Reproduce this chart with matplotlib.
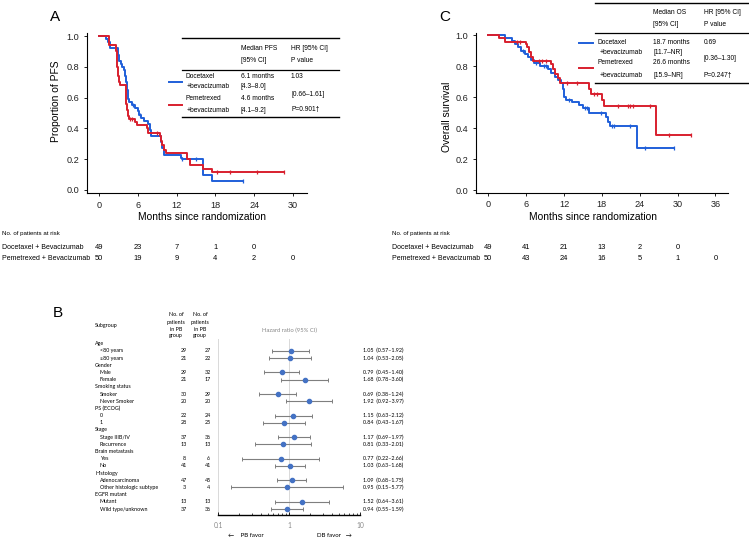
import numpy as np
import matplotlib
matplotlib.use('Agg')
import matplotlib.pyplot as plt
from matplotlib.lines import Line2D
from matplotlib.transforms import blended_transform_factory as btf

plt.rcParams['font.family'] = ['Liberation Sans', 'DejaVu Sans']

# ---------------- data ----------------
# Panel A: PFS (step times, survival after step)
pfs_doc_t = [0, 1.0, 1.3, 1.6, 2.9, 3.0, 3.4, 3.6, 3.8, 4.0, 4.2, 4.3, 4.4, 4.5, 4.6, 5.0, 5.6, 6.0, 6.2, 6.5,
             7.0, 7.6, 7.8, 8.0, 9.6, 9.8, 10.0, 12.6, 12.8, 16.1, 17.4]
pfs_doc_s = [1.0, 0.98, 0.96, 0.92, 0.88, 0.84, 0.82, 0.80, 0.78, 0.74, 0.70, 0.65, 0.61, 0.59, 0.57, 0.55, 0.53,
             0.51, 0.49, 0.47, 0.45, 0.43, 0.39, 0.35, 0.31, 0.27, 0.23, 0.21, 0.20, 0.10, 0.055]
pfs_doc_end = 22.3
pfs_doc_cens = [5.2, 6.3, 12.9, 15.0, 22.3]

pfs_pem_t = [0, 1.5, 2.6, 2.7, 2.8, 2.9, 3.0, 3.2, 4.1, 4.2, 4.3, 4.5, 4.6, 5.6, 5.8, 7.4, 7.6, 9.4, 9.6, 9.8,
             10.1, 10.3, 13.6, 14.0, 16.1, 17.4]
pfs_pem_s = [1.0, 0.94, 0.90, 0.86, 0.80, 0.74, 0.70, 0.68, 0.62, 0.56, 0.52, 0.48, 0.46, 0.44, 0.42, 0.40, 0.37,
             0.35, 0.32, 0.29, 0.26, 0.24, 0.20, 0.16, 0.135, 0.115]
pfs_pem_end = 28.7
pfs_pem_cens = [4.8, 5.0, 9.0, 18.3, 20.2, 24.4, 28.7]

# Panel C: OS
os_doc_t = [0, 2.7, 3.7, 4.2, 4.7, 5.2, 5.8, 6.3, 6.8, 7.2, 8.2, 9.5, 10.0, 10.6, 11.1, 11.6, 11.8, 12.0, 12.3,
            13.2, 14.3, 15.0, 16.0, 18.6, 19.0, 19.3, 23.6]
os_doc_s = [1.0, 0.98, 0.96, 0.945, 0.925, 0.90, 0.88, 0.86, 0.84, 0.817, 0.80, 0.78, 0.755, 0.73, 0.71, 0.69,
            0.65, 0.60, 0.58, 0.57, 0.55, 0.53, 0.50, 0.47, 0.44, 0.41, 0.27]
os_doc_end = 29.5
os_doc_cens = [5.5, 7.5, 8.8, 9.2, 12.8, 15.3, 15.6, 17.8, 19.6, 20.0, 22.5, 24.9, 29.5]

os_pem_t = [0, 1.7, 2.7, 5.9, 6.2, 6.5, 6.8, 7.1, 10.0, 10.3, 10.6, 11.0, 11.4, 16.0, 16.3, 18.1, 18.4, 26.6]
os_pem_s = [1.0, 0.98, 0.957, 0.94, 0.92, 0.89, 0.86, 0.83, 0.81, 0.78, 0.75, 0.72, 0.69, 0.65, 0.62, 0.58,
            0.54, 0.355]
os_pem_end = 32.1
os_pem_cens = [4.5, 5.1, 8.0, 8.5, 9.2, 12.4, 14.0, 16.8, 17.2, 20.6, 22.2, 22.5, 23.0, 25.6, 28.6, 32.1]

# risk tables
risk_months_A = [0, 6, 12, 18, 24, 30]
risk_doc_A = [49, 23, 7, 1, 0]
risk_pem_A = [50, 19, 9, 4, 2, 0]
risk_months_C = [0, 6, 12, 18, 24, 30, 36]
risk_doc_C = [49, 41, 21, 13, 2, 0]
risk_pem_C = [50, 43, 24, 16, 5, 1, 0]

# Panel B: forest plot
groups = ['Age', 'Gender', 'Smoking status', 'PS (ECOG)', 'Stage', 'Brain metastasis', 'Histology', 'EGFR mutant']
subgroups = [['<80 years', '\u226580 years'], ['Male', 'Female'], ['Smoker', 'Never Smoker'], ['0', '1'],
             ['Stage IIIB/IV', 'Recurrence'], ['Yes', 'No'], ['Adenocarcinoma', 'Other histologic subtype'],
             ['Mutant', 'Wild type/unknown']]
hr = [1.05, 1.04, 0.79, 1.68, 0.69, 1.92, 1.15, 0.84, 1.17, 0.81, 0.77, 1.03, 1.09, 0.95, 1.52, 0.94]
hr_lo = [0.57, 0.53, 0.45, 0.78, 0.38, 0.92, 0.63, 0.43, 0.69, 0.33, 0.22, 0.63, 0.68, 0.15, 0.64, 0.55]
hr_hi = [1.92, 2.05, 1.40, 3.60, 1.24, 3.97, 2.12, 1.67, 1.97, 2.01, 2.66, 1.68, 1.75, 5.77, 3.61, 1.59]
n_col1 = [29, 21, 29, 21, 30, 20, 22, 28, 37, 13, 8, 41, 47, 3, 13, 37]
n_col2 = [27, 22, 32, 17, 29, 20, 24, 25, 36, 13, 6, 41, 45, 4, 13, 36]

# ---------------- drawing ----------------
W, H = 749, 538
BLUE = '#1f5fd9'
RED = '#d81f2e'
fig = plt.figure(figsize=(W / 100, H / 100), dpi=100)


def px_axes(l, t, r, b):
    return fig.add_axes([l / W, 1 - b / H, (r - l) / W, (b - t) / H])


def ftext(x, y, s, **kw):
    kw.setdefault('va', 'center')
    return fig.text(x / W, 1 - y / H, s, **kw)


def fline(x0, x1, y0, y1, **kw):
    fig.add_artist(Line2D([x0 / W, x1 / W], [1 - y0 / H, 1 - y1 / H], transform=fig.transFigure, **kw))


def km(ax, t, s, end, cens, color):
    tt = np.array(list(t) + [end])
    ss = np.array(list(s) + [s[-1]])
    ax.step(tt, ss, where='post', color=color, lw=1.4)
    c = np.array(cens)
    idx = np.clip(np.searchsorted(tt, c, side='right') - 1, 0, len(ss) - 1)
    ax.plot(c, ss[idx], ls='none', marker='|', ms=3.2, mew=0.9, color=color)


def style_km(ax, xmax_tick):
    for sp in ['top', 'right']:
        ax.spines[sp].set_visible(False)
    for sp in ['left', 'bottom']:
        ax.spines[sp].set_linewidth(0.8)
    ax.set_xticks(np.arange(0, xmax_tick + 1, 6))
    ax.set_yticks([0.0, 0.2, 0.4, 0.6, 0.8, 1.0])
    ax.set_yticklabels(['0.0', '0.2', '0.4', '0.6', '0.8', '1.0'])
    ax.tick_params(labelsize=6.6, length=2.5, width=0.7, pad=3, colors='#222222')


# Panel A
axA = px_axes(87, 33, 307, 193)
km(axA, pfs_doc_t, pfs_doc_s, pfs_doc_end, pfs_doc_cens, BLUE)
km(axA, pfs_pem_t, pfs_pem_s, pfs_pem_end, pfs_pem_cens, RED)
axA.set_xlim(-1.9, 32.2)
axA.set_ylim(-0.02, 1.02)
style_km(axA, 30)
ftext(50, 17, 'A', fontsize=11)
ftext(56, 101, 'Proportion of PFS', fontsize=7.4, rotation=90, ha='center')
ftext(202, 217, 'Months since randomization', fontsize=7.4, ha='center')

fs_t = 4.8
fline(182, 339, 38, 38, color='black', lw=1.0)
fline(182, 339, 70, 70, color='black', lw=0.9)
fline(182, 339, 117, 117, color='black', lw=1.0)
fline(169, 182, 82, 82, color=BLUE, lw=1.4)
fline(169, 182, 105, 105, color=RED, lw=1.4)
ftext(241, 48, 'Median PFS', fontsize=fs_t)
ftext(241, 60, '[95% CI]', fontsize=fs_t)
ftext(291, 48, 'HR [95% CI]', fontsize=fs_t)
ftext(291, 60, 'P value', fontsize=fs_t)
ftext(185, 77, 'Docetaxel', fontsize=fs_t)
ftext(187, 87, '+bevacizumab', fontsize=fs_t)
ftext(185, 98, 'Pemetrexed', fontsize=fs_t)
ftext(187, 110, '+bevacizumab', fontsize=fs_t)
ftext(241, 77, '6.1 months', fontsize=fs_t)
ftext(241, 87, '[4.3\u20138.0]', fontsize=fs_t)
ftext(241, 98, '4.6 months', fontsize=fs_t)
ftext(241, 110, '[4.1\u20139.2]', fontsize=fs_t)
ftext(291, 77, '1.03', fontsize=fs_t)
ftext(291, 94, '[0.66\u20131.61]', fontsize=fs_t)
ftext(291, 110, 'P=0.901\u2020', fontsize=fs_t)

# Risk table A
ftext(2, 234, 'No. of patients at risk', fontsize=4.4)
ftext(2, 248, 'Docetaxel + Bevacizumab', fontsize=5)
ftext(2, 259, 'Pemetrexed + Bevacizumab', fontsize=5)
trA = btf(axA.transData, fig.transFigure)
for m, n in zip(risk_months_A, risk_doc_A):
    axA.text(m, 1 - 248 / H, str(n), transform=trA, fontsize=5.4, ha='center', va='center', clip_on=False)
for m, n in zip(risk_months_A, risk_pem_A):
    axA.text(m, 1 - 259 / H, str(n), transform=trA, fontsize=5.4, ha='center', va='center', clip_on=False)

# Panel C
axC = px_axes(475.7, 33, 728, 192.7)
km(axC, os_doc_t, os_doc_s, os_doc_end, os_doc_cens, BLUE)
km(axC, os_pem_t, os_pem_s, os_pem_end, os_pem_cens, RED)
axC.set_xlim(-2.0, 38.0)
axC.set_ylim(-0.017, 1.013)
style_km(axC, 36)
ftext(439, 17, 'C', fontsize=11)
ftext(447, 117, 'Overall survival', fontsize=7.4, rotation=90, ha='center')
ftext(593, 217, 'Months since randomization', fontsize=7.4, ha='center')

fline(595, 748, 3.3, 3.3, color='black', lw=1.0)
fline(595, 748, 33, 33, color='black', lw=0.9)
fline(595, 748, 83, 83, color='black', lw=1.0)
fline(579, 593, 43, 43, color=BLUE, lw=1.4)
fline(579, 593, 68, 68, color=RED, lw=1.4)
ftext(653, 12, 'Median OS', fontsize=fs_t)
ftext(653, 24, '[95% CI]', fontsize=fs_t)
ftext(704, 12, 'HR [95% CI]', fontsize=fs_t)
ftext(704, 24, 'P value', fontsize=fs_t)
ftext(598, 42, 'Docetaxel', fontsize=fs_t)
ftext(600, 53, '+bevacizumab', fontsize=fs_t)
ftext(598, 62, 'Pemetrexed', fontsize=fs_t)
ftext(600, 75, '+bevacizumab', fontsize=fs_t)
ftext(653, 42, '18.7 months', fontsize=fs_t)
ftext(653, 53, '[11.7\u2013NR]', fontsize=fs_t)
ftext(653, 63, '26.6 months', fontsize=fs_t)
ftext(653, 75, '[15.9\u2013NR]', fontsize=fs_t)
ftext(704, 42, '0.69', fontsize=fs_t)
ftext(704, 58, '[0.36\u20131.30]', fontsize=fs_t)
ftext(704, 75, 'P=0.247\u2020', fontsize=fs_t)

ftext(392, 234, 'No. of patients at risk', fontsize=4.4)
ftext(392, 248, 'Docetaxel + Bevacizumab', fontsize=5)
ftext(392, 259, 'Pemetrexed + Bevacizumab', fontsize=5)
trC = btf(axC.transData, fig.transFigure)
for m, n in zip(risk_months_C, risk_doc_C):
    axC.text(m, 1 - 248 / H, str(n), transform=trC, fontsize=5.4, ha='center', va='center', clip_on=False)
for m, n in zip(risk_months_C, risk_pem_C):
    axC.text(m, 1 - 259 / H, str(n), transform=trC, fontsize=5.4, ha='center', va='center', clip_on=False)

# Panel B: forest
FF = ['Lato', 'DejaVu Sans']
fsb = 3.9
ftext(53, 313, 'B', fontsize=11)
row0, dr = 343.7, 7.19
axB = px_axes(218, 339, 360, 515)
axB.set_xscale('log')
axB.set_xlim(0.1, 10)
axB.set_ylim(23 + (515 - 509) / dr, -(row0 - 339) / dr)
for sp in ['top', 'right', 'left']:
    axB.spines[sp].set_visible(False)
axB.spines['bottom'].set_linewidth(1.0)
for v in [0.1, 1, 10]:
    axB.axvline(v, color='#d9d9d9', lw=0.7, zorder=0)
axB.set_yticks([])
axB.set_xticks([0.1, 1, 10])
axB.set_xticklabels(['0.1', '1', '10'], family=FF)
axB.tick_params(axis='x', which='major', direction='in', length=2.5, width=0.6, labelsize=4.8,
                labelcolor='#888888', pad=5)
axB.tick_params(axis='x', which='minor', direction='in', length=1.5, width=0.5)

data_rows = []
for g, (name, subs) in enumerate(zip(groups, subgroups)):
    r = 3 * g
    ftext(95, row0 + r * dr, name, fontsize=fsb, family=FF)
    for k, s in enumerate(subs):
        rr = r + 1 + k
        data_rows.append(rr)
        ftext(100, row0 + rr * dr, s, fontsize=fsb, family=FF)

data_rows = np.array(data_rows)
hr_a, lo_a, hi_a = np.array(hr), np.array(hr_lo), np.array(hr_hi)
axB.errorbar(hr_a, data_rows, xerr=[hr_a - lo_a, hi_a - hr_a], fmt='none', ecolor='#7f7f7f',
             elinewidth=0.8, capsize=1.6, capthick=0.7, zorder=2)
axB.plot(hr_a, data_rows, 'o', color='#4472c4', ms=3.0, zorder=3)

for rr, a, b, h, l, u in zip(data_rows, n_col1, n_col2, hr, hr_lo, hr_hi):
    y = row0 + rr * dr
    ftext(184, y, str(a), fontsize=fsb, family=FF, ha='center')
    ftext(208, y, str(b), fontsize=fsb, family=FF, ha='center')
    ftext(363, y, f'{h:.2f}  ({l:.2f}\u2013{u:.2f})', fontsize=fsb, family=FF)

ftext(95, 326, 'Subgroup', fontsize=fsb, family=FF)
for cx in [176, 200]:
    for yy, s in zip([315, 322.5, 329.3, 336], ['No. of', 'patients', 'in PB', 'group']):
        ftext(cx, yy, s, fontsize=fsb, family=FF, ha='center')
ftext(289, 330, 'Hazard ratio (95% CI)', fontsize=4.2, family=FF, ha='center', color='#888888')
ftext(246, 535, '\u2190    PB favor', fontsize=4.4, family=FF, ha='center')
ftext(334, 535, 'DB favor   \u2192', fontsize=4.4, family=FF, ha='center')

fig.savefig('out.png', dpi=100)
